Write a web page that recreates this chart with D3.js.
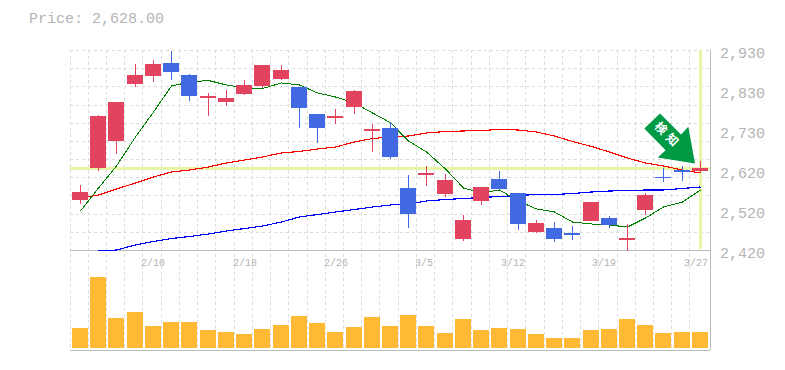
<!DOCTYPE html>
<html><head><meta charset="utf-8">
<script src="https://cdn.jsdelivr.net/npm/d3@7"></script>
<style>html,body{margin:0;padding:0;background:#fff}svg{display:block}</style></head>
<body><svg id="c" width="785" height="370"></svg>
<script>
const dates=["2/2","2/3","2/6","2/7","2/8","2/9","2/10","2/13","2/14","2/15","2/16","2/17","2/20","2/21","2/22","2/23","2/24","2/27","2/28","3/1","3/2","3/5","3/6","3/7","3/8","3/9","3/12","3/13","3/14","3/15","3/16","3/19","3/20","3/22","3/23"];
const xTickLabels=["2/10","2/18","2/26","3/5","3/12","3/19","3/27"];
const xTickRight=[165,257,348,433,525,616,708];
const opens=[2547.5,2629.1,2698.7,2843.3,2863.7,2896.9,2866.3,2807.6,2797.4,2817.8,2838.2,2856,2835.7,2766.8,2756.6,2785.4,2723.5,2731.1,2578.1,2611.3,2562.8,2448,2545,2601,2565.4,2465.9,2476.1,2463.4,2493.9,2501.6,2445.5,2522,2606.2,2624,2621.5];
const closes=[2568.7,2761.7,2797.4,2866.3,2894.3,2873.9,2812.7,2812.7,2807.6,2840.8,2891.8,2879,2782.1,2731.1,2761.7,2825.5,2728.6,2657.2,2511.8,2616.4,2598.5,2496.5,2580.7,2575.6,2486.3,2488.9,2448,2458.3,2542.4,2483.8,2450.6,2560.3,2603.6,2618.9,2628];
const highs=[2585.8,2764.3,2797.4,2894.3,2904.5,2928.2,2868.8,2820.4,2828,2853.5,2891.8,2891.8,2835.7,2766.8,2779.5,2828,2741.3,2746.4,2611.3,2634.2,2613.8,2509.3,2580.7,2621.5,2565.4,2496.5,2491.4,2481.2,2542.4,2506.7,2486.3,2565.4,2629.1,2634.2,2647];
const lows=[2537.3,2622.2,2664.8,2835.7,2848.4,2853.5,2800,2761.7,2787.2,2815.3,2833.1,2853.5,2731.1,2693.6,2741.3,2766.8,2669.9,2652,2476.1,2583.2,2555.2,2443,2534.8,2575.6,2471,2463.4,2440.4,2445.5,2493.9,2476.1,2417.5,2509.3,2593.4,2596,2616.4];
const ma5=[2519.5,2578.1,2634.2,2708.2,2771.9,2838.2,2848.4,2852.2,2840.8,2833.1,2831.8,2845.9,2840.8,2820.4,2810.2,2794.9,2769.4,2744.6,2698,2669.9,2626.6,2578.1,2565.4,2573,2545,2524.6,2517,2491.4,2486.3,2483.8,2478.6,2501.6,2529.7,2542.4,2573];
const ma25=[2552.6,2560.3,2575.6,2590.9,2606.2,2618.9,2624,2631.7,2641.9,2649.5,2657.2,2667.4,2671.2,2677.6,2682.7,2695.4,2704.3,2708.2,2710.7,2718.4,2722.2,2723.5,2724.8,2727.3,2726,2720.9,2710.7,2696.7,2684,2669.9,2654.6,2641.9,2634.2,2624,2616.4];
const ma75=[null,2417.5,2420,2432.8,2441.7,2449.3,2454.4,2460.8,2468.4,2474.8,2481.2,2491.4,2504.2,2510.5,2516.9,2523.3,2529.6,2534.8,2537.3,2545,2548.8,2551.3,2553.9,2556.4,2559,2561.5,2561.5,2564,2567.9,2570.4,2571.7,2573,2573,2576.8,2580.7];
const volumes=[20,71,30,36,22,26,26,18,16,14,19,23,32,25,16,21,31,22,33,22,15,29,18,20,19,14,10,10,18,19,29,23,15,16,16];
const priceTicks=[2420,2522,2624,2726,2828,2930];
const priceTickLabels=["2,420","2,520","2,620","2,730","2,830","2,930"];
const lastPrice=2628;
const titleText="Price: 2,628.00";
const signalText="検知";

const svg=d3.select("#c");
const mono="'Liberation Mono','DejaVu Sans Mono',monospace";
const idx=d3.range(dates.length);
const x=d3.scaleBand().domain(idx).range([70,708.2]);
const left=i=>Math.round(x(i)+2), mid=i=>left(i)+8;
const y=d3.scaleLinear().domain([2420,2930]).range([250,50]);
const yv=d3.scaleLinear().domain([0,d3.max(volumes)]).range([348,277]);
const gridY=d3.range(12).map(k=>2420+k*510/11);
const gridC="#dcdcdc", axisC="#bbb", textC="#b4b4b4";

const g=svg.append("g").attr("shape-rendering","crispEdges");
g.selectAll("line.v").data(idx).join("line").attr("class","v")
 .attr("x1",i=>Math.floor(x(i))+.5).attr("x2",i=>Math.floor(x(i))+.5)
 .attr("y1",50).attr("y2",350).attr("stroke",gridC).attr("stroke-dasharray","3,3");
g.selectAll("line.h").data(gridY).join("line").attr("class","h")
 .attr("x1",70).attr("x2",710).attr("y1",d=>Math.round(y(d))+.5).attr("y2",d=>Math.round(y(d))+.5)
 .attr("stroke",gridC).attr("stroke-dasharray","3,3");

const hl="#e6f5a8";
g.append("rect").attr("x",70).attr("width",640).attr("y",Math.round(y(lastPrice))-1).attr("height",3).attr("fill",hl);
g.append("rect").attr("x",mid(34)-1).attr("width",3).attr("y",50).attr("height",199).attr("fill",hl);

[[70,250,710,250],[70,350,710,350],[710,50,710,350]].forEach(a=>g.append("line")
 .attr("x1",a[0]+.5*(a[0]===a[2])).attr("x2",a[2]+.5*(a[0]===a[2]))
 .attr("y1",a[1]+.5*(a[1]===a[3])).attr("y2",a[3]+.5*(a[1]===a[3])).attr("stroke",axisC));

const line=arr=>d3.line().defined(i=>arr[i]!==null).x(i=>mid(i)+.5).y(i=>y(arr[i]))(idx);
[[ma75,"#0000ff",1.15],[ma25,"#ff0000",1.15],[ma5,"#008000",1]].forEach(([a,c,w])=>
 svg.append("path").attr("d",line(a)).attr("fill","none").attr("stroke",c).attr("stroke-width",w).attr("shape-rendering","crispEdges"));

const up="#e2445f", dn="#4169e1";
const col=i=>closes[i]>=opens[i]?up:dn;
const cg=svg.append("g").attr("shape-rendering","crispEdges");
cg.selectAll("rect.w").data(idx).join("rect").attr("class","w")
 .attr("x",mid).attr("width",1).attr("y",i=>Math.round(y(highs[i]))).attr("height",i=>Math.round(y(lows[i]))-Math.round(y(highs[i])))
 .attr("fill",col);
cg.selectAll("rect.b").data(idx).join("rect").attr("class","b")
 .attr("x",left).attr("width",16)
 .attr("y",i=>Math.round(y(Math.max(opens[i],closes[i]))))
 .attr("height",i=>Math.max(1,Math.round(y(Math.min(opens[i],closes[i])))-Math.round(y(Math.max(opens[i],closes[i])))))
 .attr("fill",col);

svg.append("g").attr("shape-rendering","crispEdges").selectAll("rect").data(idx).join("rect")
 .attr("x",left).attr("width",16).attr("y",i=>Math.round(yv(volumes[i]))).attr("height",i=>348-Math.round(yv(volumes[i])))
 .attr("fill","#ffb935");

const yAxis=d3.axisRight(y).tickValues(priceTicks).tickSize(0).tickPadding(0).tickFormat((d,i)=>priceTickLabels[i]);
const ya=svg.append("g").attr("transform","translate(720,3)").call(yAxis);
ya.select(".domain").remove();
ya.selectAll("text").attr("font-family",mono).attr("font-size",15).attr("fill",textC);
svg.append("g").selectAll("text").data(xTickLabels).join("text")
 .attr("x",(d,i)=>xTickRight[i]).attr("y",266).attr("text-anchor","end").text(d=>d)
 .attr("font-family",mono).attr("font-size",10).attr("fill",textC);

svg.append("text").attr("x",29).attr("y",23).text(titleText)
 .attr("font-family",mono).attr("font-size",15).attr("fill",textC);

const tipX=mid(34)-5, tipY=y(lastPrice)-5;
const ag=svg.append("g").attr("transform",`translate(${tipX},${tipY})`);
ag.append("polygon").attr("points","-35,-50 -50.7,-35 -29.3,-13.3 -37.3,-6 0,0 -6.7,-36.6 -14,-29")
 .attr("fill","#009944");
ag.append("text").attr("transform","translate(-27,-28) rotate(45)").attr("text-anchor","middle").attr("dy","0.35em")
 .attr("font-family","'Noto Sans CJK JP'").attr("font-weight",700).attr("font-size",12).attr("letter-spacing",4).attr("fill","#fff").text(signalText);
</script></body></html>
